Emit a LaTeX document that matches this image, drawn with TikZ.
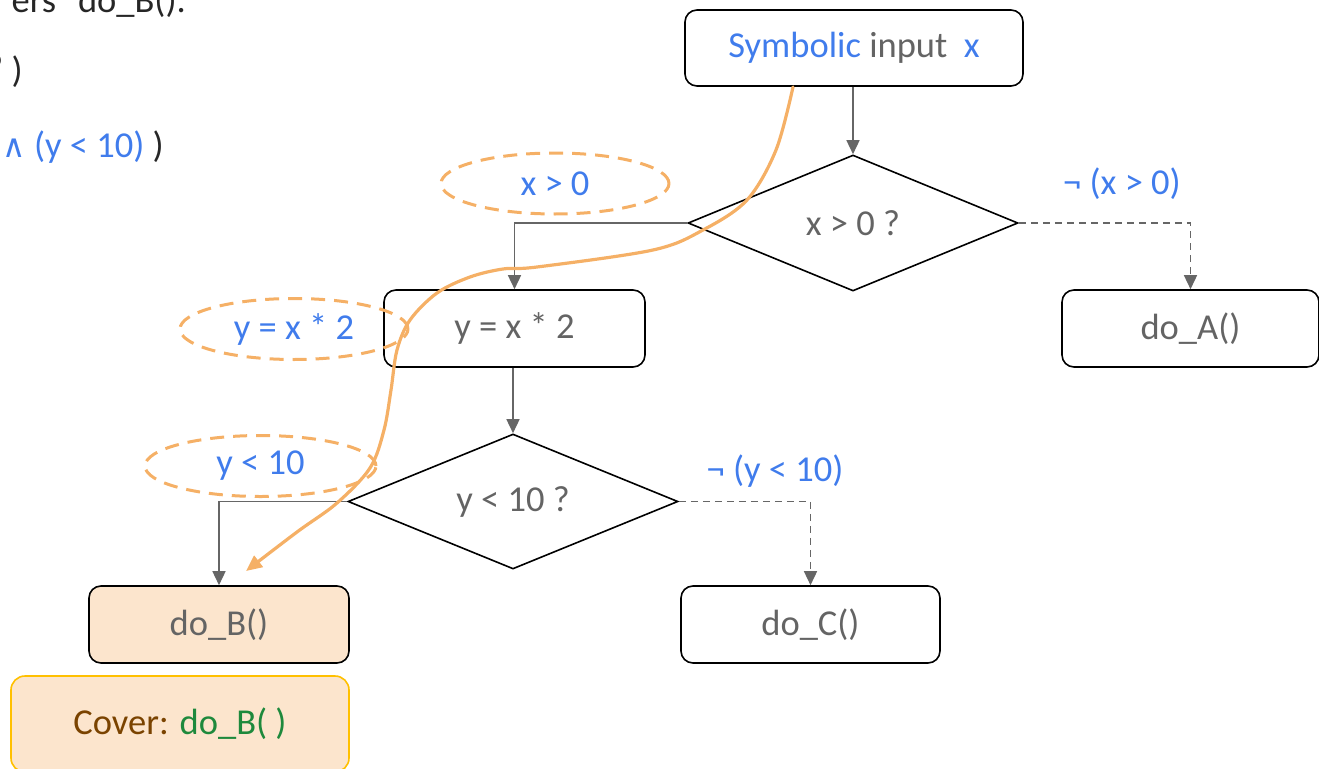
\documentclass[tikz,border=0pt]{standalone}
\usepackage{fontspec}
\setmainfont{Carlito}
\newfontfamily\symfont{DejaVu Sans}
\usetikzlibrary{shapes.geometric,arrows.meta}

\definecolor{txtgray}{RGB}{100,100,100}
\definecolor{txtdark}{RGB}{38,38,38}
\definecolor{condblue}{RGB}{64,124,236}
\definecolor{linegray}{RGB}{102,102,102}
\definecolor{pathorange}{RGB}{245,176,102}
\definecolor{hitfill}{RGB}{252,229,205}
\definecolor{coverline}{RGB}{255,192,0}
\definecolor{coverbrown}{RGB}{122,67,0}
\definecolor{codegreen}{RGB}{30,137,60}

\tikzset{
  stmt/.style={draw=black, line width=1.6pt, rounded corners=12pt, inner sep=0pt,
    text=txtgray, minimum height=77pt},
  test/.style={draw=black, line width=1.6pt, diamond, inner sep=0pt, text=txtgray,
    minimum width=330pt, minimum height=136pt, aspect=2.43},
  cond/.style={ellipse, draw=pathorange, line width=3pt, dash pattern=on 14pt off 9pt,
    text=condblue, inner sep=0pt, minimum width=228pt, minimum height=61pt},
  flow/.style={draw=linegray, line width=1.5pt, -{Triangle[length=14pt,width=13pt]}},
  skip/.style={flow, dash pattern=on 7pt off 5pt},
  lbl/.style={text=condblue, inner sep=0pt},
  trace/.style={draw=pathorange, line width=3.2pt, line cap=round,
    -{Triangle[length=16pt,width=14pt]}},
}

\begin{document}
\begin{tikzpicture}[x=1pt, y=-1pt, font=\fontsize{36.5}{44}\selectfont]
\useasboundingbox (0,0) rectangle (1319,768);
\clip (0,0) rectangle (1319,768);

% trailing lines of the explanation text on the left
\node[anchor=base east, text=txtdark, inner sep=0pt] (t1) at (186,13) {ers “do\_B().};
\node[anchor=base east, text=txtdark, inner sep=0pt] (t2) at (23,82) {’ )};
\node[anchor=base east, text=txtdark, inner sep=0pt] (t3) at (164,157)
  {\textcolor{condblue}{{\symfont\fontsize{32}{38}\selectfont ∧} (y < 10)} )};

% program flow chart
\node[stmt, minimum width=338pt, minimum height=76pt] (src) at (854,48)
  {\textcolor{condblue}{Symbolic} input\hspace{0.45em}\textcolor{condblue}{x}};
\node[test] (d1) at (853,223) {x > 0 ?};
\node[stmt, minimum width=261pt] (asg) at (514.5,328.5) {y = x * 2};
\node[test, minimum height=135pt] (d2) at (513,501.5) {y < 10 ?};
\node[stmt, minimum width=257pt] (doA) at (1190.5,328.5) {do\_A()};
\node[stmt, minimum width=260pt, fill=hitfill] (doB) at (219,624.5) {do\_B()};
\node[stmt, minimum width=259pt] (doC) at (810.5,624.5) {do\_C()};

% edges
\draw[flow] (d1.north |- src.south) -- (d1.north);
\draw[flow] (d1.west) -| (asg.north);
\draw[skip] (d1.east) -| (doA.north);
\draw[flow] (d2.north |- asg.south) -- (d2.north);
\draw[flow] (d2.west) -| (doB.north);
\draw[skip] (d2.east) -| (doC.north);

% branch conditions
\node[cond] (c1) at (555,183.5) {x > 0};
\node[cond] (c2) at (294,329) {y = x * 2};
\node[cond, minimum width=231pt] (c3) at (260.5,466) {y < 10};
\node[lbl] (n1) at (1122,184) {¬ (x > 0)};
\node[lbl] (n2) at (775,471) {¬ (y < 10)};

% path taken by the symbolic execution
\coordinate (p0) at (793,87);
\coordinate (p9) at (246,571);
\draw[trace] plot[smooth, tension=0.55] coordinates {
  (p0) (776,150) (747,200) (703,230) (653,250) (537,267) (503,269)
  (470,277) (437,293) (410,320) (397,350) (391,390) (384,430)
  (370,468) (337,503) (297,532) (p9)};

% coverage result
\node[draw=coverline, line width=1.6pt, rounded corners=14pt, fill=hitfill,
  minimum width=338pt, minimum height=96pt, inner sep=0pt] (cov) at (180,724)
  {\textcolor{coverbrown}{Cover:} \textcolor{codegreen}{do\_B( )}};
\end{tikzpicture}
\end{document}
